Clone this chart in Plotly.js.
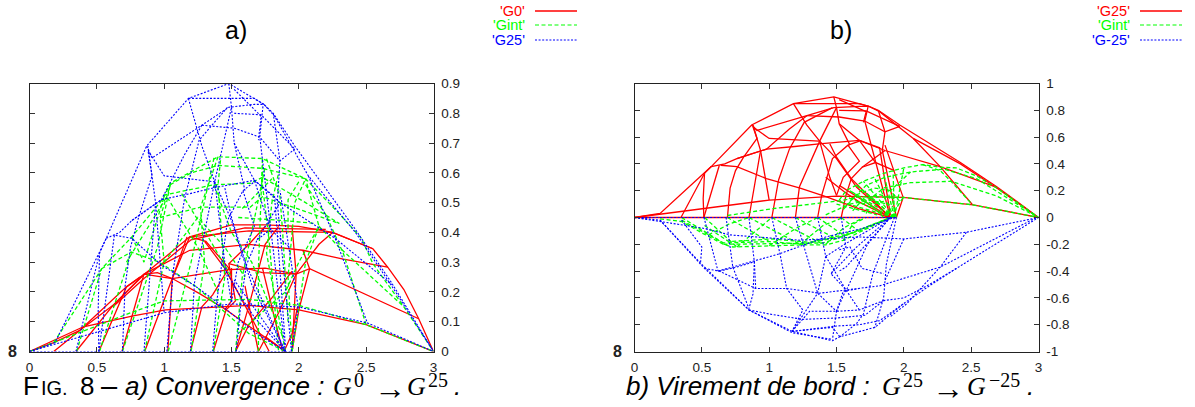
<!DOCTYPE html>
<html><head><meta charset="utf-8">
<script src="https://cdn.plot.ly/plotly-3.0.1.min.js"></script>
<style>html,body{margin:0;padding:0;background:#fff}#c{width:1195px;height:407px}</style>
</head><body><div id="c"></div>
<script>
// Each list is one drawn mesh: a list of polylines, each a list of [x, y] values.
const g25Lines = [
 [[0,0],[.19,.03],[.57,.38],[.87,.69],[1.18,.85],[1.48,.90],[1.74,.83],[1.81,.80],[1.97,.69],[2.42,.41],[2.69,.23],[3,0]],
 [[.87,.69],[.91,.65],[1.28,.76],[1.48,.82],[1.67,.83],[1.74,.83],[1.82,.79],[2.07,.59],[2.42,.40],[2.69,.22],[3,0]],
 [[1.18,.85],[1.47,.85],[1.67,.85],[1.74,.83]],
 [[.57,.38],[.67,.40],[.76,.44],[.98,.51],[1.19,.53],[1.37,.55],[1.67,.575],[1.86,.50],[2.27,.38],[2.69,.225]],
 [[1.28,.76],[1.52,.75],[1.71,.72],[1.86,.64],[1.97,.68]],
 [[.88,.675],[1.0,.59],[1.37,.57]],
 [[.64,.39],[.76,.38],[.98,.29],[1.23,.22],[1.41,.16],[1.67,.065],[1.9,0]],
 [[0,0],[.51,.065],[1.0,.13],[1.5,.16],[1.67,.155],[1.995,.15],[2.515,.095],[3,0]],
 [[.345,0],[.52,.33],[.57,.38]],
 [[.515,0],[.51,.14],[.52,.33]],
 [[.515,0],[.63,.39]],
 [[.69,0],[.71,.22],[.75,.35],[.81,.45],[.91,.59],[.88,.675]],
 [[.85,0],[.906,.327],[.936,.50],[.88,.69]],
 [[.936,.50],[1.0,.13]],
 [[1.02,0],[1.07,.28],[1.15,.51],[1.26,.71],[1.47,.82]],
 [[1.18,.85],[1.28,.69],[1.375,.57]],
 [[1.195,0],[1.225,.23],[1.375,.57],[1.5,.82],[1.48,.90]],
 [[1.36,0],[1.39,.165],[1.47,.44],[1.585,.54],[1.67,.57]],
 [[1.375,.57],[1.45,.30],[1.5,.165]],
 [[1.535,0],[1.57,.165],[1.61,.29],[1.69,.375],[1.79,.41],[1.93,.35]],
 [[1.9,0],[1.79,.41],[1.71,.72],[1.735,.83]],
 [[1.945,0],[1.87,.36],[1.84,.5],[1.86,.64],[1.81,.80]],
 [[1.9,0],[1.61,.29],[1.5,.45],[1.45,.55]],
 [[1.9,0],[1.52,.24]],
 [[1.69,.375],[1.86,.50]],
 [[1.67,.575],[1.82,.52],[1.9,.02]],
 [[1.945,0],[1.995,.15],[1.86,.54]],
 [[1.52,.80],[1.72,.795],[1.97,.68]],
 [[1.52,.88],[1.72,.79],[1.70,.71]],
 [[2.07,.59],[2.27,.38],[2.51,.095]],
 [[1.42,.30],[1.56,.19],[1.67,.115],[1.9,0]],
 [[1.585,.54],[1.67,.42],[1.55,.30],[1.5,.165]],
 [[1.375,.57],[1.5,.44],[1.65,.225],[1.9,0]],
 [[1.5,.82],[1.52,.70],[1.6,.54]],
 [[1.52,.70],[1.67,.575],[1.79,.41]],
 [[.76,.44],[.98,.51],[1.15,.66],[1.28,.76]],
 [[0,0],[.19,0],[.345,0],[.515,0],[.69,0],[.85,0],[1.02,0],[1.195,0],[1.36,0],[1.535,0],[1.7,0],[1.9,0],[1.945,0]]
];
const gm25Lines = [
 [[0,0],[.19,-.02],[.49,-.34],[.85,-.69],[1.17,-.85],[1.47,-.92],[1.525,-.89],[1.785,-.82],[1.995,-.645],[2.19,-.51],[2.39,-.38],[3,0]],
 [[.19,-.02],[.52,-.38],[.85,-.69],[1.17,-.86],[1.47,-.91]],
 [[.85,-.69],[1.0,-.72],[1.25,-.76],[1.5,-.75],[1.71,-.73],[1.85,-.62],[2.0,-.6],[2.19,-.5],[2.39,-.38]],
 [[1.17,-.85],[1.5,-.81],[1.67,-.8],[1.82,-.77],[1.995,-.645]],
 [[.52,-.38],[.63,-.40],[.9,-.53],[1.13,-.53],[1.375,-.565],[1.67,-.53],[1.82,-.51],[2.27,-.37],[2.985,0]],
 [[.62,-.40],[.9,-.32],[1.08,-.27],[1.42,-.145],[1.7,-.08],[1.93,0]],
 [[0,0],[.51,-.08],[.71,-.13],[1.23,-.17],[1.67,-.145],[2.0,-.16],[2.465,-.11],[3,0]],
 [[.35,-.02],[.5,-.22],[.49,-.34]],
 [[.516,0],[.62,-.40]],
 [[.68,0],[.73,-.37],[.85,-.68],[.88,-.57],[.89,-.33],[.85,0]],
 [[1.02,0],[1.08,-.27],[1.13,-.53],[1.25,-.69],[1.17,-.85]],
 [[1.195,0],[1.25,-.19],[1.36,-.565],[1.5,-.7],[1.47,-.91]],
 [[1.36,0],[1.42,-.29],[1.36,-.565],[1.17,-.85]],
 [[1.535,0],[1.57,-.22],[1.46,-.42],[1.57,-.54],[1.67,-.69]],
 [[1.9,0],[1.73,-.2],[1.57,-.55]],
 [[1.93,0],[1.77,-.42],[1.70,-.72],[1.65,-.79],[1.525,-.89]],
 [[1.945,0],[1.87,-.35],[1.85,-.6],[1.785,-.82]],
 [[1.9,0],[1.57,-.37],[1.52,-.4]],
 [[1.52,-.24],[1.6,-.22],[1.69,-.38],[1.85,-.42]],
 [[2.0,-.16],[1.86,-.47]],
 [[2.465,-.11],[2.27,-.37],[2.02,-.645],[1.9,-.74]],
 [[1.42,-.29],[1.56,-.2],[1.9,0]],
 [[1.46,-.42],[1.65,-.22],[1.9,0]],
 [[1.5,-.7],[1.55,-.55],[1.67,-.53]],
 [[1.17,-.85],[1.3,-.7],[1.5,-.7],[1.67,-.69],[1.85,-.62]],
 [[.63,-.40],[.76,-.37],[.89,-.33],[.9,-.53]],
 [[1.42,-.29],[1.57,-.54],[1.5,-.7]],
 [[1.17,-.85],[1.47,-.82],[1.525,-.89]],
 [[0,0],[.19,0],[.345,0],[.515,0],[.69,0],[.85,0],[1.02,0],[1.195,0],[1.36,0],[1.535,0],[1.7,0],[1.9,0],[1.945,0]]
];
const gintBLines = [
 [[.19,-.01],[.35,-.03],[.51,-.12],[.66,-.2],[.73,-.22],[1.0,-.21],[1.23,-.205],[1.42,-.205],[1.55,-.17],[1.67,-.11],[1.9,0]],
 [[.35,-.02],[.66,-.19],[1.0,-.18],[1.25,-.2],[1.55,-.14],[1.9,0]],
 [[.52,-.06],[.7,-.18],[1.02,-.16],[1.3,-.185],[1.6,-.12],[1.9,0]],
 [[.66,-.2],[1.0,-.195],[1.4,-.19],[1.7,-.09],[1.9,0]],
 [[.35,0],[.66,-.19]],[[.52,0],[.76,-.22]],[[.69,0],[1.0,-.18]],[[.85,0],[1.23,-.2]],
 [[1.02,0],[1.4,-.2]],[[1.195,0],[1.5,-.16]],[[1.36,0],[1.55,-.13]],[[1.535,0],[1.65,-.09]],
 [[1.23,-.2],[1.4,-.06],[1.55,0]],[[1.0,-.21],[1.2,-.08],[1.36,0]],[[.76,-.22],[.9,-.1],[1.02,0]],[[.55,-.13],[.7,-.05],[.85,0]],
 [[1.42,-.2],[1.55,-.08],[1.7,0]],[[1.55,-.17],[1.62,-.05],[1.72,0]],
 [[.69,.015],[1.02,.065],[1.53,.125],[1.67,.155],[1.995,.15],[2.51,.095],[3,0]],
 [[1.52,.13],[1.57,.2],[1.7,.27],[1.85,.33],[2.0,.37],[2.14,.395],[2.27,.375],[2.39,.37],[2.54,.31],[2.69,.22],[3,0]],
 [[1.6,.12],[1.72,.24],[1.86,.3],[2.05,.34],[2.3,.36],[2.54,.29],[3,0]],
 [[1.7,.1],[1.85,.22],[2.05,.26],[2.35,.27],[2.69,.16],[3,0]],
 [[2.14,.395],[2.27,.35],[2.35,.27],[2.51,.095]],
 [[1.93,0],[1.52,.12]],[[1.93,0],[1.6,.2]],[[1.93,0],[1.7,.27]],[[1.93,0],[1.85,.33]],[[1.93,0],[2.0,.37]],
 [[1.93,0],[1.56,.16]],[[1.93,0],[1.65,.24]],[[1.93,0],[1.78,.3]],[[1.93,0],[1.92,.35]],
 [[1.9,0],[1.995,.15]],[[1.945,0],[1.9,.2],[2.05,.34]],
 [[1.55,.06],[1.65,.17],[1.78,.22],[1.9,.2],[1.97,.12]],
 [[1.62,.05],[1.7,.14],[1.82,.17],[1.93,.14]],
 [[1.72,.03],[1.76,.1],[1.85,.12],[1.92,.08]],
 [[1.5,.1],[1.8,.02]],
 [[1.42,.02],[1.6,.1],[1.75,.13],[1.88,.1]],
 [[1.6,.2],[1.78,.07],[1.85,0]],[[1.65,.24],[1.82,.1],[1.9,.02]]
];
const g0Lines = [
 [[0,0],[.18,.03],[.37,.07],[.62,.155],[.855,.26],[1.19,.385],[1.5,.425],[1.75,.425],[2.0,.42],[2.25,.40],[2.55,.345],[2.66,.283],[2.78,.208],[2.89,.11],[3,0]],
 [[.855,.26],[.95,.265],[1.06,.245],[1.48,.275],[1.75,.28],[1.98,.26],[2.08,.278],[2.43,.205],[2.89,.11]],
 [[.62,.155],[.85,.26],[1.19,.34],[1.63,.36],[2.03,.34],[2.33,.31],[2.66,.283]],
 [[1.19,.385],[1.63,.405],[2.25,.4],[2.55,.345]],
 [[.62,.15],[.85,.245],[1.2,.375],[1.6,.415],[2.2,.41]],
 [[.85,.26],[1.06,.245],[1.26,.195],[1.46,.14],[1.63,.085],[1.9,0]],
 [[0,0],[.4,.083],[.77,.12],[1.01,.14],[1.63,.155],[2.0,.14],[2.5,.09],[3,0]],
 [[.18,0],[.37,.07],[.72,.217],[.855,.26]],
 [[.345,0],[.62,.155]],
 [[.515,0],[.72,.217],[.82,.25]],
 [[.687,0],[.85,.26]],
 [[.855,0],[1.06,.245],[1.19,.385]],
 [[1.027,0],[1.06,.245],[1.17,.385]],
 [[1.195,0],[1.28,.15],[1.36,.19],[1.48,.28],[1.31,.37],[1.19,.385]],
 [[1.365,0],[1.46,.14],[1.53,.17],[1.48,.295],[1.63,.36],[1.75,.42]],
 [[1.53,0],[1.63,.155],[1.75,.36],[1.85,.42]],
 [[1.70,0],[1.85,.13],[1.98,.26],[2.15,.36],[2.25,.40]],
 [[1.95,0],[1.98,.26],[1.95,.42]],
 [[1.5,.28],[1.5,.17],[1.45,.14]],
 [[1.95,0],[2.0,.14],[2.08,.278],[2.03,.34]],
 [[1.89,0],[1.95,.06],[1.99,.15]],
 [[1.48,.295],[1.73,.265],[1.98,.26]],
 [[1.73,.28],[1.88,0]],
 [[1.6,.22],[1.7,0]],
 [[1.75,.05],[1.9,0]],
 [[1.53,0],[1.63,.09],[1.8,.18],[1.95,.27]],
 [[1.3,.37],[1.45,.28],[1.6,.155],[1.78,0]]
];
const gintALines = [
 [[0,0],[.18,.03],[.54,.28],[.76,.385],[.995,.515],[1.045,.565],[1.4,.654],[1.64,.648],[1.73,.648],[2.05,.58],[2.3,.463],[2.465,.38],[2.55,.295],[2.78,.15],[3,0]],
 [[1.045,.56],[1.2,.6],[1.4,.625],[1.73,.615],[2.05,.58]],
 [[.995,.525],[1.37,.56],[1.64,.565],[1.73,.585],[2.05,.5],[2.3,.43]],
 [[.97,.45],[1.27,.485],[1.64,.485],[1.73,.52],[2.05,.47],[2.3,.43]],
 [[.535,.278],[.756,.334],[.965,.30],[1.24,.217],[1.63,.06],[1.9,0]],
 [[.18,.03],[.78,.135],[1.0,.17],[1.63,.175],[2.0,.155],[2.5,.09],[3,0]],
 [[.35,0],[.535,.278]],[[.52,0],[.756,.334]],
 [[.69,0],[.95,.35],[1.045,.56]],
 [[.855,0],[1.0,.3],[.97,.45],[1.05,.565]],
 [[1.03,0],[1.2,.3],[1.37,.65]],
 [[1.2,0],[1.3,.3],[1.27,.485],[1.4,.654]],
 [[1.365,0],[1.45,.25],[1.4,.56],[1.42,.65]],
 [[1.53,0],[1.58,.25],[1.75,.62]],
 [[1.7,0],[1.7,.28],[1.73,.648]],
 [[1.9,0],[1.76,.33],[1.8,.5],[1.85,.6]],
 [[1.95,0],[1.92,.25],[1.97,.5],[2.05,.58]],
 [[1.95,0],[2.05,.3],[2.15,.42],[2.05,.58]],
 [[2.5,.09],[2.33,.33],[2.2,.46],[2.05,.56]],
 [[1.55,.06],[1.9,.2],[2.0,.3],[2.15,.42],[2.3,.35],[2.78,.15]],
 [[1.13,.53],[1.32,.39],[1.5,.25]],
 [[1.73,.648],[1.73,.56],[1.78,.37],[1.85,.0]],
 [[1.76,.647],[1.86,.52],[1.88,.4],[1.92,.1]],
 [[2.0,.57],[1.92,.51],[1.92,.4]],
 [[1.58,.48],[1.8,.58]],
 [[1.55,.45],[1.88,.44],[2.12,.43]],
 [[.76,.385],[.85,.3],[1.0,.52]],
 [[.72,.3],[1.02,.52],[1.25,.35],[1.4,.2]],
 [[1.0,.3],[1.25,.45],[1.45,.35],[1.6,.25]],
 [[1.37,.56],[1.5,.4],[1.65,.3],[1.88,.05]]
];
const xTickVals = [0,.5,1,1.5,2,2.5,3];
const xTickText = ['0','0.5','1','1.5','2','2.5','3'];
const yTickValsA = [0,.1,.2,.3,.4,.5,.6,.7,.8,.9];
const yTickTextA = ['0','0.1','0.2','0.3','0.4','0.5','0.6','0.7','0.8','0.9'];
const yTickValsB = [-1,-.8,-.6,-.4,-.2,0,.2,.4,.6,.8,1];
const yTickTextB = ['-1','-0.8','-0.6','-0.4','-0.2','0','0.2','0.4','0.6','0.8','1'];
const legendA = ["'G0'","'Gint'","'G25'"];
const legendB = ["'G25'","'Gint'","'G-25'"];

const W=1195,H=407,SANS='Liberation Sans, Arial, sans-serif',SERIF='Liberation Serif, serif';
const RED='#ff0000',GREEN='#00ff00',BLUE='#0000ff';
function flat(lines,i){const o=[];lines.forEach(l=>{l.forEach(p=>o.push(p[i]));o.push(null);});return o;}
function tr(lines,name,color,dash,xa,ya,w){return {type:'scatter',mode:'lines',name,x:flat(lines,0),y:flat(lines,1),xaxis:xa,yaxis:ya,showlegend:false,hoverinfo:'skip',line:{color,width:w,dash}};}
const DASH_G='4px,2.5px',DOT_B='2px,1.6px';
const traces=[
 tr(g0Lines,'G0',RED,'solid','x','y',1.3),
 tr(gintALines,'Gint',GREEN,DASH_G,'x','y',1.3),
 tr(g25Lines,'G25',BLUE,DOT_B,'x','y',1.1),
 tr(g25Lines,'G25',RED,'solid','x2','y2',1.3),
 tr(gintBLines,'Gint',GREEN,DASH_G,'x2','y2',1.3),
 tr(gm25Lines,'G-25',BLUE,DOT_B,'x2','y2',1.1)
];
function xa(l,r,anchor){return {domain:[l/W,r/W],range:[0,3],anchor,tickmode:'array',tickvals:xTickVals,ticktext:xTickText,ticks:'inside',ticklen:5,tickwidth:1,tickcolor:'#333',mirror:'ticks',showline:true,linecolor:'#222',linewidth:1,showgrid:false,zeroline:false,tickfont:{family:SANS,size:13.5,color:'#222'},ticklabelstandoff:3};}
function ya(rng,tv,tt,anchor){return {domain:[(H-351.5)/H,(H-83.5)/H],range:rng,anchor,side:'right',tickmode:'array',tickvals:tv,ticktext:tt,ticks:'inside',ticklen:5,tickwidth:1,tickcolor:'#333',mirror:'ticks',showline:true,linecolor:'#222',linewidth:1,showgrid:false,zeroline:false,tickfont:{family:SANS,size:13.5,color:'#222'},ticklabelstandoff:4};}
function note(text,px,py,size,anchor,color,fam){return {xref:'paper',yref:'paper',x:px/W,y:1-py/H,text,showarrow:false,xanchor:anchor,yanchor:'middle',align:anchor==='right'?'right':'left',font:{family:fam||SANS,size,color:color||'#000'},borderpad:0};}
const annotations=[
 note('a)',236,30,25,'center'),note('b)',841,30,25,'center'),
 note('<b>8</b>',12,351,16,'center','#222'),note('<b>8</b>',617,351,16,'center','#222')
];
const cols=[RED,GREEN,BLUE],ys=[11,25,40];
legendA.forEach((t,i)=>annotations.push(note(t,526,ys[i],14.5,'right',cols[i])));
legendB.forEach((t,i)=>annotations.push(note(t,1131,ys[i],14.5,'right',cols[i])));
const capY=386,supY=380;
annotations.push(note('F',22,capY,26,'left'));
annotations.push(note('IG.',40,capY+1.5,20,'left'));
annotations.push(note('8',79,capY,26,'left'));
annotations.push(note('–',100,capY,29,'left'));
annotations.push(note('<i>a) Convergence :</i>',124,capY,26,'left'));
annotations.push(note('<i>G</i>',332,capY,26,'left','#000',SERIF));
annotations.push(note('0',353,supY,20,'left','#000',SERIF));
annotations.push(note('→',373,capY+2,32,'left','#000',SERIF));
annotations.push(note('<i>G</i>',406,capY,26,'left','#000',SERIF));
annotations.push(note('25',427,supY,20,'left','#000',SERIF));
annotations.push(note('<i>.</i>',453,capY,26,'left'));
annotations.push(note('<i>b) Virement de bord :</i>',625,capY,26,'left'));
annotations.push(note('<i>G</i>',881,capY,26,'left','#000',SERIF));
annotations.push(note('25',902,supY,20,'left','#000',SERIF));
annotations.push(note('→',931,capY+2,32,'left','#000',SERIF));
annotations.push(note('<i>G</i>',966,capY,26,'left','#000',SERIF));
annotations.push(note('−25',988,supY,20,'left','#000',SERIF));
annotations.push(note('<i>.</i>',1026,capY,26,'left'));
const shapes=[];
[[535,577],[1140,1182]].forEach(s=>{
 [[RED,'solid',1.5],[GREEN,DASH_G,1],[BLUE,DOT_B,1]].forEach((c,i)=>shapes.push({type:'line',xref:'paper',yref:'paper',x0:s[0]/W,x1:s[1]/W,y0:1-ys[i]/H,y1:1-ys[i]/H,line:{color:c[0],width:c[2],dash:c[1]}}));
});
const layout={width:W,height:H,autosize:false,margin:{l:0,r:0,t:0,b:0,pad:0},paper_bgcolor:'#fff',plot_bgcolor:'#fff',showlegend:false,
 xaxis:xa(29.5,433.5,'y'),yaxis:ya([0,.9],yTickValsA,yTickTextA,'x'),
 xaxis2:xa(634.5,1038.5,'y2'),yaxis2:ya([-1,1],yTickValsB,yTickTextB,'x2'),
 annotations,shapes};
Plotly.newPlot('c',traces,layout,{displayModeBar:false,staticPlot:true});
</script></body></html>
